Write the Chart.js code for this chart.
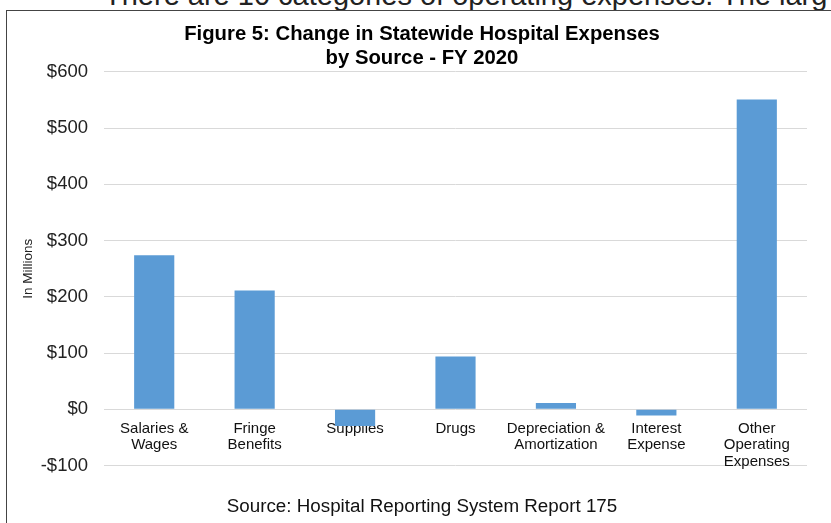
<!DOCTYPE html>
<html>
<head>
	<meta charset="utf-8">
	<title>Figure 5</title>
	<style>
		body { margin: 0; width: 831px; height: 523px; overflow: hidden; background: #fff; font-family: "Liberation Sans", Arial, sans-serif; position: relative; }
		#lead { position: absolute; left: 104px; top: -21px; font-size: 29px; color: #222; white-space: nowrap; }
		#box { position: absolute; left: 6px; top: 10px; width: 840px; height: 520px; border: 1px solid #444; }
		#chart { display: block; }
	</style>
</head>
<body>

	<div id="lead">There are 10 categories of operating expenses. The larg</div>
	<div id="box">
		<canvas id="chart" width="840" height="512"></canvas>
	</div>

	<script src="https://cdn.jsdelivr.net/npm/chart.js"></script>
	<script>
		// categories (multi-line labels, as in the report)
		const categories = [
			['Salaries &', 'Wages'],
			['Fringe', 'Benefits'],
			['Supplies'],
			['Drugs'],
			['Depreciation &', 'Amortization'],
			['Interest', 'Expense'],
			['Other', 'Operating', 'Expenses']
		];

		// change in expenses, $ millions
		const changeValues = [274, 211, -30, 94, 11, -11, 551];

		// y axis ticks
		const yTicks = [-100, 0, 100, 200, 300, 400, 500, 600];

		const titleLines = ['Figure 5: Change in Statewide Hospital Expenses', 'by Source - FY 2020'];
		const sourceNote = 'Source: Hospital Reporting System Report 175';

		const font = '"Liberation Sans", Arial, sans-serif';

		function money(v) {
			return v < 0 ? '-$' + Math.abs(v) : '$' + v;
		}

		new Chart(document.getElementById('chart'), {
			type: 'bar',
			data: {
				labels: categories,
				datasets: [{
					label: 'Change',
					data: changeValues,
					backgroundColor: '#5b9bd5',
					borderWidth: 0,
					barPercentage: 0.4,
					categoryPercentage: 1.0
				}]
			},
			options: {
				responsive: false,
				animation: false,
				// left padding shifts the centred title/source to where the report has them
				layout: { padding: { left: 30, right: 40, top: 0, bottom: 0 } },
				plugins: {
					legend: { display: false },
					tooltip: { enabled: false },
					title: {
						display: true,
						text: titleLines,
						color: '#000',
						font: { family: font, size: 20.3, weight: 'bold', lineHeight: 1.18 },
						padding: { top: 11, bottom: 2 }
					},
					subtitle: {
						display: true,
						position: 'bottom',
						text: sourceNote,
						color: '#111',
						font: { family: font, size: 18.8, lineHeight: 1.2 },
						padding: { top: 30, bottom: 5 }
					}
				},
				scales: {
					x: {
						position: { y: 0 },
						z: 1,
						grid: { display: false, drawTicks: false },
						border: { display: false },
						ticks: {
							color: '#111',
							font: { family: font, size: 15, lineHeight: 1.1 },
							padding: 11,
							maxRotation: 0,
							autoSkip: false
						}
					},
					y: {
						min: -100,
						max: 600,
						afterBuildTicks: (scale) => {
							scale.ticks = yTicks.map(v => ({ value: v }));
						},
						afterFit: (scale) => {
							scale.width = 67;
						},
						grid: { color: '#d9d9d9', lineWidth: 1, drawTicks: false },
						border: { display: false },
						ticks: {
							color: '#222',
							font: { family: font, size: 18.5 },
							padding: 16,
							callback: (v) => money(v)
						},
						title: {
							display: true,
							text: 'In Millions',
							color: '#222',
							font: { family: font, size: 13.5 },
							padding: { top: -17, bottom: 0 }
						}
					}
				}
			}
		});
	</script>
</body>
</html>
